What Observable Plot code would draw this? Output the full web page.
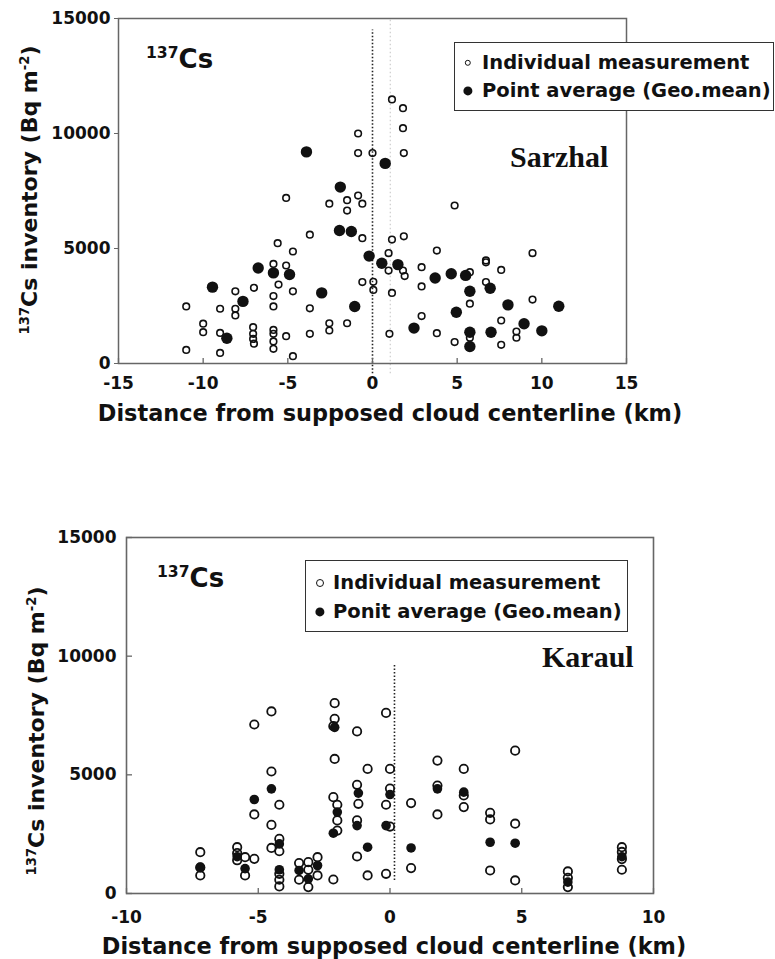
<!DOCTYPE html>
<html><head><meta charset="utf-8">
<script src="https://cdn.jsdelivr.net/npm/d3@7"></script>
<script src="https://cdn.jsdelivr.net/npm/@observablehq/plot@0.6"></script>
<style>
body{margin:0;background:#fff;}
#wrap{position:relative;width:775px;height:959px;overflow:hidden;font-family:"DejaVu Sans",sans-serif;font-weight:bold;color:#111;}
#wrap svg text{font-family:"DejaVu Sans",sans-serif !important;font-weight:bold !important;font-size:17px !important;}
.t{position:absolute;white-space:nowrap;line-height:1;}
.t sup{font-size:0.6em;position:relative;top:-0.62em;vertical-align:baseline;line-height:0;}
.serif{font-family:"Liberation Serif","Times New Roman",serif;font-weight:bold;}
.box{position:absolute;background:#fff;border:1.5px solid #333;box-sizing:border-box;}
.mk{position:absolute;border-radius:50%;box-sizing:border-box;transform:translate(-50%,-50%);}
</style></head><body><div id="wrap"></div>
<script>
// ---------- Sarzhal (top panel) ----------
const sarzhalIndX = [-11.0,-11.0,-10.0,-10.0,-9.0,-9.0,-9.0,-8.1,-8.1,-8.1,-7.0,-7.05,-7.05,-7.05,-7.0,
  -5.85,-5.85,-5.85,-5.85,-5.85,-5.85,-5.85,-5.6,-5.55,-5.1,-5.1,-5.1,-4.7,-4.7,-4.7,-3.7,-3.7,-3.7,
  -2.55,-2.55,-2.55,-1.5,-1.5,-1.5,-0.85,-0.85,-0.85,-0.6,-0.6,-0.6,0.0,0.05,0.05,0.95,0.95,1.0,
  1.15,1.15,1.15,1.8,1.8,1.85,1.85,1.8,1.9,2.9,2.9,2.9,3.8,3.8,4.85,4.85,5.75,5.75,5.75,
  6.7,6.7,6.7,7.6,7.6,7.6,8.5,8.5,9.45,9.45];
const sarzhalIndY = [2480,590,1730,1360,2380,1330,460,3140,2380,2090,3290,1580,1290,1070,860,
  4330,2930,2480,1460,1290,960,640,5230,3430,7200,4260,1190,4870,3140,320,5600,2400,1290,
  6950,1750,1435,7100,6650,1750,10000,9150,7300,6950,5450,3540,9150,3550,3200,4800,4040,1290,
  11480,5390,3070,11100,10230,9150,5530,4040,3800,4190,3350,2060,4910,1320,6870,930,3970,2600,1120,
  4480,4400,3540,4070,1870,810,1390,1120,4800,2780];
const sarzhalAvgX = [-9.45,-8.6,-7.65,-6.75,-5.85,-4.9,-3.9,-3.0,-1.9,-1.95,-1.25,-1.05,-0.2,0.55,0.75,
  1.5,2.45,3.7,4.65,4.95,5.5,5.75,5.75,5.75,6.95,7.0,8.0,8.95,10.0,11.0];
const sarzhalAvgY = [3320,1100,2700,4150,3940,3870,9200,3070,7670,5780,5740,2480,4670,4360,8700,
  4300,1540,3720,3900,2230,3830,3140,1360,740,3270,1360,2550,1730,1420,2490];
const sarzhalXTicks = [-15,-10,-5,0,5,10,15];
const sarzhalGuideX = [0];
const sarzhalGuideY = [-450, 14500];
const sarzhalFaintX = [1.05];

// ---------- Karaul (bottom panel) ----------
const karaulIndX = [-7.2,-7.2,-7.2,-5.8,-5.8,-5.8,-5.5,-5.5,-5.15,-5.15,-5.15,-4.5,-4.5,-4.5,-4.5,
  -4.2,-4.2,-4.2,-4.2,-4.2,-4.2,-3.45,-3.45,-3.1,-3.1,-3.1,-2.75,-2.75,-2.15,
  -2.1,-2.1,-2.15,-2.1,-2.15,-2.0,-2.0,-2.0,-1.25,-1.25,-1.2,-1.25,-1.25,-0.85,-0.85,
  -0.15,-0.15,-0.15,0.0,0.0,0.0,0.8,0.8,1.8,1.8,1.8,2.8,2.8,2.8,3.8,3.8,3.8,
  4.75,4.75,4.75,6.75,6.75,6.75,8.8,8.8,8.8,8.8];
const karaulIndY = [1740,1100,760,1950,1700,1400,1530,760,7120,3330,1460,7670,5140,2890,1920,
  3740,2300,1780,830,580,300,1280,580,1320,1000,270,1530,760,590,
  8020,7360,7050,5670,4060,3740,3080,2650,6830,4580,3780,3080,1560,5250,760,
  7610,3740,830,5250,4420,2820,3810,1070,5600,4550,3330,5250,4130,3640,3400,3120,970,
  6020,2940,550,930,660,270,1950,1750,1450,1000];
const karaulAvgX = [-7.2,-5.8,-5.5,-5.15,-4.5,-4.2,-4.2,-3.45,-3.1,-2.75,-2.1,-2.0,-2.15,-1.2,-1.25,
  -0.85,-0.15,0.0,0.8,1.8,2.8,3.8,4.75,6.75,8.8];
const karaulAvgY = [1100,1550,1050,3960,4410,2090,1000,970,620,1180,7000,3430,2540,4230,2860,
  1950,2860,4170,1920,4410,4270,2160,2120,480,1550];
const karaulXTicks = [-10,-5,0,5,10];
const karaulGuideX = [0.17];
const karaulGuideY = [550, 9690];

const yTicks = [0,5000,10000,15000];

const pts = (xs, ys) => xs.map((x, i) => ({x, y: ys[i]}));
const baseStyle = {fontFamily: "DejaVu Sans", fontWeight: "bold", fontSize: "17px", color: "#111", background: "transparent", overflow: "visible"};
const fmt = d => String(d);

const wrap = document.getElementById("wrap");

// Top plot
const topPlot = Plot.plot({
  width: 775, height: 400,
  marginLeft: 118, marginRight: 149, marginTop: 18, marginBottom: 37,
  x: {domain: [-15, 15]},
  y: {domain: [0, 15000]},
  style: baseStyle,
  marks: [
    Plot.ruleX(sarzhalFaintX, {x: d => d, y1: sarzhalGuideY[0], y2: 15000, stroke: "#ccc", strokeWidth: 1.2, strokeDasharray: "1.5,2.5"}),
    Plot.ruleX(sarzhalGuideX, {x: d => d, y1: sarzhalGuideY[0], y2: sarzhalGuideY[1], stroke: "#222", strokeWidth: 1.6, strokeDasharray: "1.5,2"}),
    Plot.frame({stroke: "#666", strokeWidth: 1.5}),
    Plot.ruleX(sarzhalXTicks, {x: d => d, insetTop: 340, stroke: "#666", strokeWidth: 1.3}),
    Plot.axisX(sarzhalXTicks, {tickSize: 0, tickPadding: 13, label: null, tickFormat: fmt}),
    Plot.axisY(yTicks, {tickSize: 4, stroke: "#666", tickPadding: 4, label: null, tickFormat: fmt}),
    Plot.dot(pts(sarzhalIndX, sarzhalIndY), {x: "x", y: "y", r: 3.3, stroke: "#111", strokeWidth: 1.6, fill: "none"}),
    Plot.dot(pts(sarzhalAvgX, sarzhalAvgY), {x: "x", y: "y", r: 5.7, fill: "#111", stroke: "none"})
  ]
});
topPlot.style.position = "absolute"; topPlot.style.left = "0px"; topPlot.style.top = "0px";
wrap.appendChild(topPlot);

// Bottom plot
const botPlot = Plot.plot({
  width: 775, height: 430,
  marginLeft: 126, marginRight: 122, marginTop: 37, marginBottom: 37,
  x: {domain: [-10, 10]},
  y: {domain: [0, 15000]},
  style: baseStyle,
  marks: [
    Plot.ruleX(karaulGuideX, {x: d => d, y1: karaulGuideY[0], y2: karaulGuideY[1], stroke: "#222", strokeWidth: 1.6, strokeDasharray: "1.5,2"}),
    Plot.frame({stroke: "#666", strokeWidth: 1.6}),
    Plot.ruleX(karaulXTicks, {x: d => d, insetTop: 351, stroke: "#666", strokeWidth: 1.3}),
    Plot.ruleY(yTicks, {y: d => d, insetRight: 521, stroke: "#666", strokeWidth: 1.3}),
    Plot.axisX(karaulXTicks, {tickSize: 0, tickPadding: 17, label: null, tickFormat: fmt}),
    Plot.axisY(yTicks, {tickSize: 0, tickPadding: 10, label: null, tickFormat: fmt}),
    Plot.dot(pts(karaulIndX, karaulIndY), {x: "x", y: "y", r: 4.2, stroke: "#111", strokeWidth: 1.8, fill: "none"}),
    Plot.dot(pts(karaulAvgX, karaulAvgY), {x: "x", y: "y", r: 4.8, fill: "#111", stroke: "none"})
  ]
});
botPlot.style.position = "absolute"; botPlot.style.left = "0px"; botPlot.style.top = "500px";
wrap.appendChild(botPlot);

// ---------- HTML text overlays ----------
function txt(html, x, y, size, opts = {}) {
  const d = document.createElement("div");
  d.className = "t" + (opts.serif ? " serif" : "");
  d.innerHTML = html;
  d.style.left = x + "px"; d.style.top = y + "px"; d.style.fontSize = size + "px";
  const ax = opts.anchor === "middle" ? "-50%" : "0";
  d.style.transform = `translate(${ax},-50%)`;
  wrap.appendChild(d);
  return d;
}
function rotTxt(html, cx, cy, size) {
  const d = document.createElement("div");
  d.className = "t";
  d.innerHTML = html;
  d.style.left = cx + "px"; d.style.top = cy + "px"; d.style.fontSize = size + "px";
  d.style.transform = "translate(-50%,-50%) rotate(-90deg)";
  wrap.appendChild(d);
}
function marker(x, y, r, filled, sw) {
  const m = document.createElement("div");
  m.className = "mk";
  m.style.left = x + "px"; m.style.top = y + "px";
  m.style.width = (2 * r) + "px"; m.style.height = (2 * r) + "px";
  if (filled) m.style.background = "#111"; else m.style.border = sw + "px solid #111";
  wrap.appendChild(m);
}
function box(l, t, w, h) {
  const b = document.createElement("div");
  b.className = "box";
  b.style.left = l + "px"; b.style.top = t + "px"; b.style.width = w + "px"; b.style.height = h + "px";
  wrap.appendChild(b);
}

const ylab = "<sup>137</sup>Cs inventory (Bq m<sup>-2</sup>)";
const xlab = "Distance from supposed cloud centerline (km)";

// top panel annotations
txt("<sup>137</sup>Cs", 146, 59, 26);
txt("Sarzhal", 510, 157, 30, {serif: true});
box(454, 42, 320, 69);
marker(468, 63, 3.2, false, 1.5);
marker(468, 91, 4.6, true);
txt("Individual measurement", 482, 63, 19.5);
txt("Point average (Geo.mean)", 482, 91, 19.5);
rotTxt(ylab, 30, 190, 22);
txt(xlab, 390, 413, 22.4, {anchor: "middle"});

// bottom panel annotations
txt("<sup>137</sup>Cs", 157, 578, 26);
txt("Karaul", 542, 657, 30, {serif: true});
box(305, 560, 323, 72);
marker(320, 583, 4, false, 1.6);
marker(320, 612, 4.6, true);
txt("Individual measurement", 333, 583, 19.5);
txt("Ponit average (Geo.mean)", 333, 612, 19.5);
rotTxt(ylab, 37, 731, 22);
txt(xlab, 394, 946, 22.4, {anchor: "middle"});
</script>
</body></html>
